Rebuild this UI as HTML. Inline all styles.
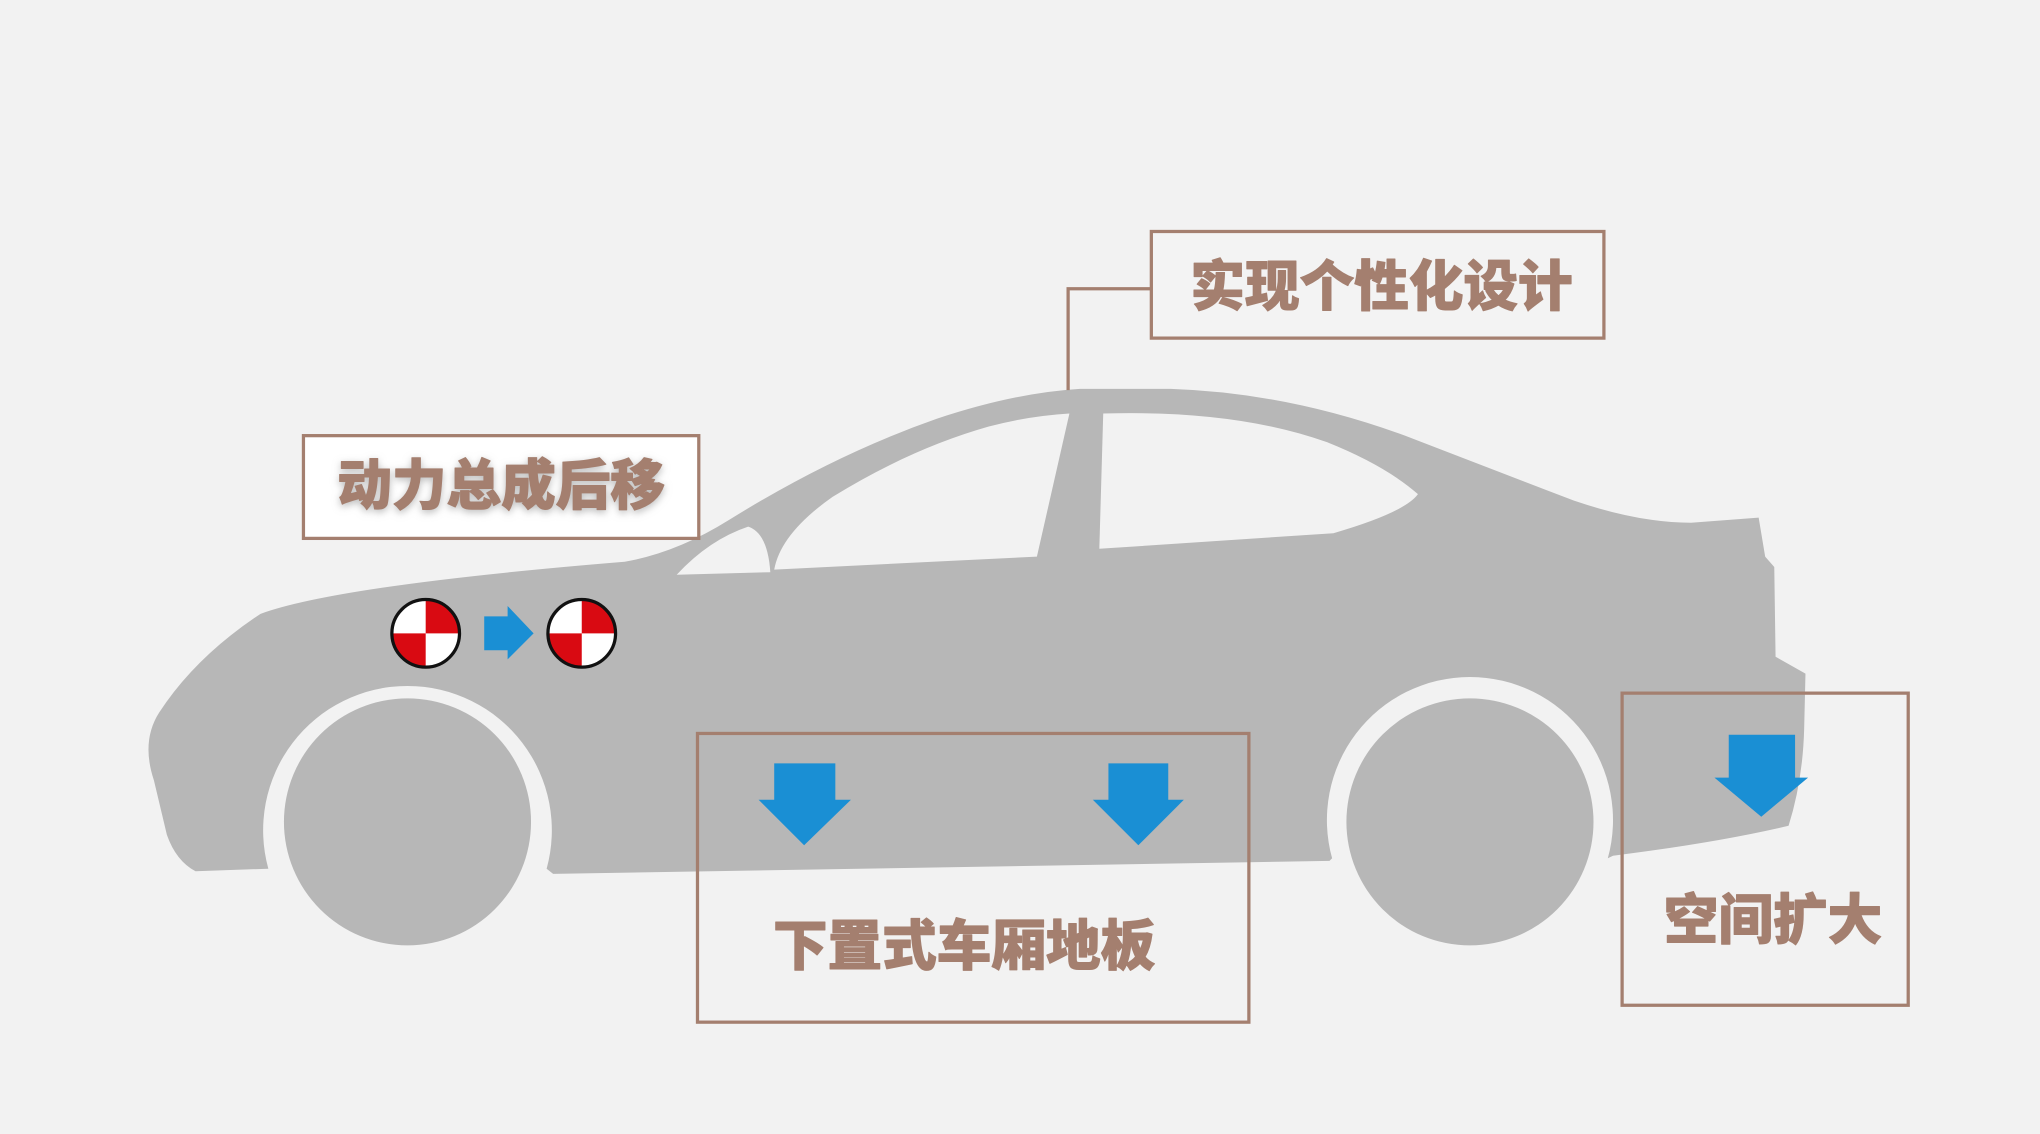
<!DOCTYPE html>
<html><head><meta charset="utf-8"><style>
html,body{margin:0;padding:0;background:#f2f2f2;}
svg{display:block}
text{font-family:"Liberation Sans","Noto Sans CJK SC",sans-serif;font-weight:900;fill:#a47f6f;text-anchor:middle;stroke:#a47f6f;stroke-width:0.8;stroke-linejoin:round}
</style></head><body>
<svg width="2040" height="1134" viewBox="0 0 1568 872" xmlns="http://www.w3.org/2000/svg">
<defs>
<filter id="sh" x="-10%" y="-20%" width="120%" height="140%"><feGaussianBlur stdDeviation="3"/></filter>
</defs>
<rect width="1568" height="872" fill="#f2f2f2"/>
<!-- car body -->
<path fill="#b7b7b7" d="M128,642 L118,600 Q108,570 122,548 Q150,505 200,472 Q260,450 480,432 Q520,425 560,400 Q640,350 720,322 Q780,302 830,299 L900,299 Q990,302 1080,335 Q1150,362 1210,385 Q1260,402 1300,402 L1352,398 L1357,428 L1364,436 L1365,505 L1388,518 L1387,560 Q1386,600 1375,635 Q1320,648 1240,658 L1236,660 A110,110 0 1 0 1024,660 L1022,662 L425,672 L420,668 A111,111 0 1 0 206,668 L150,670 Q135,662 128,642 Z"/>
<!-- windows -->
<path fill="#f2f2f2" d="M520,442 Q545,415 575,405 Q590,410 592,440 Z"/>
<path fill="#f2f2f2" d="M595,438 Q600,410 640,382 Q700,345 760,328 Q790,320 822,318 L797,428 Z"/>
<path fill="#f2f2f2" d="M848,318 Q950,315 1020,340 Q1065,358 1090,380 Q1080,394 1025,410 L845,422 Z"/>
<!-- wheels -->
<circle cx="313" cy="632" r="95" fill="#b7b7b7"/>
<circle cx="1130" cy="632" r="95" fill="#b7b7b7"/>
<!-- connector -->
<polyline points="885,222 821,222 821,300" fill="none" stroke="#a47f6f" stroke-width="2.5"/>
<!-- box1 -->
<rect x="233" y="335" width="304" height="79" fill="#fff" stroke="#a47f6f" stroke-width="2.5"/>
<text x="385" y="390" font-size="42" filter="url(#sh)" style="fill:#bbb;stroke:#bbb">动力总成后移</text>
<text x="385" y="388" font-size="42">动力总成后移</text>
<!-- box2 -->
<rect x="885" y="178" width="348" height="82" fill="#f3f3f3" stroke="#a47f6f" stroke-width="2.5"/>
<text x="1062" y="235" font-size="42">实现个性化设计</text>
<!-- targets -->
<g stroke="none">
<circle cx="327" cy="487" r="26" fill="#fff"/>
<path d="M327,487 L327,461 A26,26 0 0 1 353,487 Z" fill="#d90a12"/>
<path d="M327,487 L327,513 A26,26 0 0 1 301,487 Z" fill="#d90a12"/>
<circle cx="327" cy="487" r="26" fill="none" stroke="#111" stroke-width="2.5"/>
<circle cx="447" cy="487" r="26" fill="#fff"/>
<path d="M447,487 L447,461 A26,26 0 0 1 473,487 Z" fill="#d90a12"/>
<path d="M447,487 L447,513 A26,26 0 0 1 421,487 Z" fill="#d90a12"/>
<circle cx="447" cy="487" r="26" fill="none" stroke="#111" stroke-width="2.5"/>
</g>
<polygon points="372,474 390,474 390,466 410,487 390,507 390,500 372,500" fill="#1a8fd4"/>
<!-- box3 -->
<rect x="536" y="564" width="424" height="222" fill="none" stroke="#a47f6f" stroke-width="2.5"/>
<polygon points="595,587 642,587 642,615 654,615 618,650 583,615 595,615" fill="#1a8fd4"/>
<polygon points="852,587 898,587 898,615 910,615 875,650 840,615 852,615" fill="#1a8fd4"/>
<text x="741" y="742" font-size="42">下置式车厢地板</text>
<!-- box4 -->
<rect x="1247" y="533" width="220" height="240" fill="none" stroke="#a47f6f" stroke-width="2.5"/>
<polygon points="1329,565 1380,565 1380,598 1390,598 1354,628 1318,598 1329,598" fill="#1a8fd4"/>
<text x="1363" y="722" font-size="42">空间扩大</text>
</svg>
</body></html>
